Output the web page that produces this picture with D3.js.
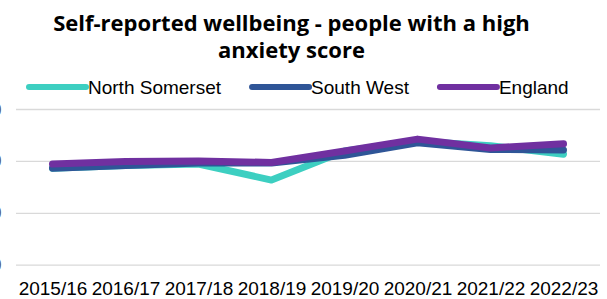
<!DOCTYPE html>
<html>
<head>
<meta charset="utf-8">
<script src="https://cdn.jsdelivr.net/npm/d3@7"></script>
<style>
	body { margin: 0; background: #fff; }
	svg { display: block; }
</style>
</head>
<body>
<svg id="chart" width="607" height="299"></svg>
<script>
'use strict'

const years = ['2015/16', '2016/17', '2017/18', '2018/19', '2019/20', '2020/21', '2021/22', '2022/23']
const northSomerset = [18.6, 19.1, 19.4, 16.3, 21.9, 23.8, 22.9, 21.3]
const southWest = [18.6, 19.1, 19.6, 19.6, 21.1, 23.5, 22.2, 22.1]
const england = [19.4, 19.9, 20.0, 19.7, 21.9, 24.2, 22.5, 23.3]
const yTicks = [0, 10, 20, 30]
const titleLines = ['Self-reported wellbeing - people with a high', 'anxiety score']

const series = [
	{name: 'North Somerset', values: northSomerset, color: '#3dcfc1'},
	{name: 'South West', values: southWest, color: '#2f5597'},
	{name: 'England', values: england, color: '#7030a0'}
]

const params = {
	left: 16,
	right: 600,
	top: 109,
	bottom: 264.7,
	lineWidth: 7,
	legendLine: 57,
	legendGap: 31,
	fontSize: 19
}

const svg = d3.select('#chart')
const font = 'Liberation Sans, Arial, sans-serif'

const x = d3.scalePoint()
	.domain(years)
	.range([params.left, params.right])
	.padding(0.5)

const y = d3.scaleLinear()
	.domain([0, 30])
	.range([params.bottom, params.top])

// gridlines; the y labels sit mostly off the left edge, as in the source image
const yAxis = svg.append('g')
	.attr('transform', `translate(${params.left}, 0)`)
	.call(d3.axisLeft(y).tickValues(yTicks).tickSize(-(params.right - params.left)).tickPadding(14.5))
yAxis.select('.domain').remove()
yAxis.selectAll('.tick line')
	.attr('stroke', '#d9d9d9')
	.attr('stroke-width', 1.3)
yAxis.selectAll('.tick text')
	.attr('font-family', font)
	.attr('font-size', params.fontSize)
	.attr('fill', '#595959')

// x labels
const xAxis = svg.append('g')
	.attr('transform', `translate(0, ${params.bottom})`)
	.call(d3.axisBottom(x).tickSize(0).tickPadding(0))
xAxis.select('.domain').remove()
xAxis.selectAll('.tick text')
	.attr('font-family', font)
	.attr('font-size', params.fontSize)
	.attr('fill', '#000')
	.attr('dy', null)
	.attr('y', 30.5)

const line = d3.line()
	.x((d, i) => x(years[i]))
	.y((d) => y(d))

svg.append('g')
	.selectAll('path')
	.data(series)
	.enter()
	.append('path')
	.attr('d', (s) => line(s.values))
	.attr('fill', 'none')
	.attr('stroke', (s) => s.color)
	.attr('stroke-width', params.lineWidth)
	.attr('stroke-linecap', 'round')
	.attr('stroke-linejoin', 'round')

// title
svg.append('g')
	.selectAll('text')
	.data(titleLines)
	.enter()
	.append('text')
	.attr('x', 291.5)
	.attr('y', (d, i) => 31 + i * 27)
	.attr('text-anchor', 'middle')
	.attr('font-family', 'Open Sans, sans-serif')
	.attr('font-weight', 700)
	.attr('font-size', 22)
	.attr('fill', '#000')
	.text((d) => d)

// legend
const legend = svg.append('g').attr('transform', 'translate(29, 87)')
let lx = 0
series.forEach((s) => {
	const item = legend.append('g').attr('transform', `translate(${lx}, 0)`)
	item.append('line')
		.attr('x1', 0)
		.attr('x2', params.legendLine)
		.attr('stroke', s.color)
		.attr('stroke-width', 6)
		.attr('stroke-linecap', 'round')
	const t = item.append('text')
		.attr('x', params.legendLine + 2)
		.attr('y', 6.5)
		.attr('font-family', font)
		.attr('font-size', params.fontSize)
		.attr('fill', '#000')
		.text(s.name)
	lx += params.legendLine + 2 + t.node().getComputedTextLength() + params.legendGap
})
</script>
</body>
</html>
